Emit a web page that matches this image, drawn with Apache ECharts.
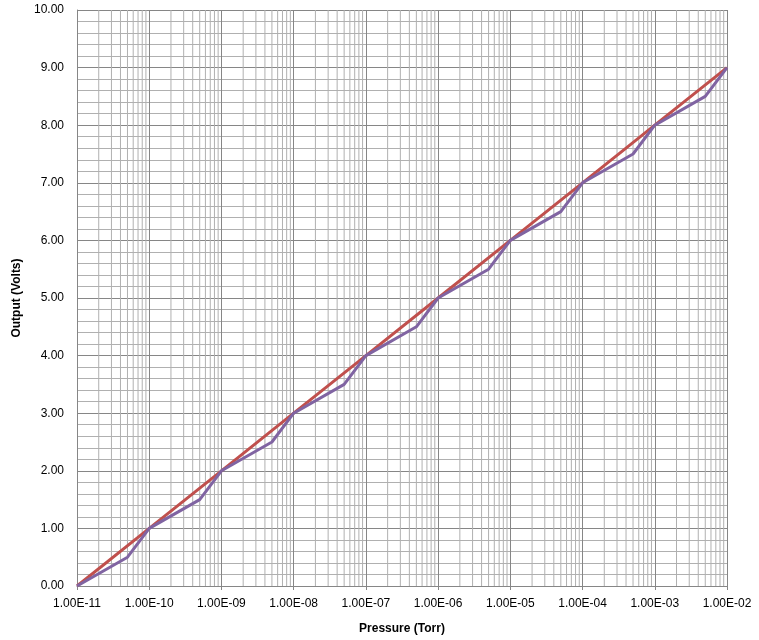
<!DOCTYPE html>
<html><head><meta charset="utf-8">
<script src="https://cdn.jsdelivr.net/npm/echarts@6/dist/echarts.min.js"></script>
<style>html,body{margin:0;padding:0;background:#fff}#c{width:759px;height:640px}</style>
</head><body><div id="c"></div>
<script>
// Data
const pressures = [1e-11,5e-11,1e-10,5e-10,1e-9,5e-9,1e-8,5e-8,1e-7,5e-7,1e-6,5e-6,1e-5,5e-5,1e-4,5e-4,1e-3,5e-3,1e-2];
const outputStepped = [0,0.5,1,1.5,2,2.5,3,3.5,4,4.5,5,5.5,6,6.5,7,7.5,8,8.5,9];
const decadePressures = [1e-11,1e-10,1e-9,1e-8,1e-7,1e-6,1e-5,1e-4,1e-3,1e-2];
const outputLinear = [0,1,2,3,4,5,6,7,8,9];
const minorMultipliers = [2,3,4,5,6,7,8,9];
const decadeExponents = [-11,-10,-9,-8,-7,-6,-5,-4,-3];
const yRange = [0, 10];

// minor vertical grid lines (2..9 in each decade), drawn as a broken line series
const minorGrid = [];
decadeExponents.forEach(e => minorMultipliers.forEach(m => {
  const x = m * Math.pow(10, e);
  minorGrid.push([x, yRange[0]], [x, yRange[1]], [x, '-']);
}));

const font = 'Liberation Sans, Arial, sans-serif';
const chart = echarts.init(document.getElementById('c'));
chart.setOption({
  animation: false,
  grid: {left: 77, right: 32, top: 10, bottom: 45},
  xAxis: {
    type: 'log', logBase: 10, min: 1e-11, max: 1e-2, splitNumber: 9,
    name: 'Pressure (Torr)', nameLocation: 'middle', nameGap: 37,
    nameTextStyle: {fontFamily: font, fontSize: 12, fontWeight: 'bold', color: '#000'},
    axisLine: {show: true, lineStyle: {color: '#868686', width: 1}},
    axisTick: {show: true, length: 4, lineStyle: {color: '#868686'}},
    axisLabel: {
      fontFamily: font, fontSize: 12, color: '#000', margin: 12,
      formatter: v => { const e = Math.round(Math.log10(v)); const a = Math.abs(e); return '1.00E' + (e < 0 ? '-' : '+') + (a < 10 ? '0' + a : a); }
    },
    splitLine: {show: true, lineStyle: {color: '#868686', width: 1}}
  },
  yAxis: {
    type: 'value', min: yRange[0], max: yRange[1], interval: 1,
    name: 'Output (Volts)', nameLocation: 'middle', nameGap: 52,
    nameTextStyle: {fontFamily: font, fontSize: 12, fontWeight: 'bold', color: '#000'},
    axisLine: {show: true, lineStyle: {color: '#868686', width: 1}},
    axisTick: {show: false},
    minorTick: {show: false, splitNumber: 5},
    axisLabel: {fontFamily: font, fontSize: 12, color: '#000', margin: 13, formatter: v => v.toFixed(2)},
    splitLine: {show: true, lineStyle: {color: '#868686', width: 1}},
    minorSplitLine: {show: true, lineStyle: {color: '#b0b0b0', width: 1}}
  },
  series: [
    {
      name: 'minorGrid', type: 'line', z: 1, silent: true, showSymbol: false, connectNulls: false,
      data: minorGrid, tooltip: {show: false},
      lineStyle: {color: '#b0b0b0', width: 1}, emphasis: {disabled: true}
    },
    {
      name: 'Linear', type: 'line', showSymbol: false, z: 3,
      data: decadePressures.map((p, i) => [p, outputLinear[i]]),
      lineStyle: {color: '#c0504d', width: 3}, itemStyle: {color: '#c0504d'}
    },
    {
      name: 'Stepped', type: 'line', showSymbol: false, z: 4,
      data: pressures.map((p, i) => [p, outputStepped[i]]),
      lineStyle: {color: '#8064a2', width: 3}, itemStyle: {color: '#8064a2'}
    }
  ]
});
</script></body></html>
